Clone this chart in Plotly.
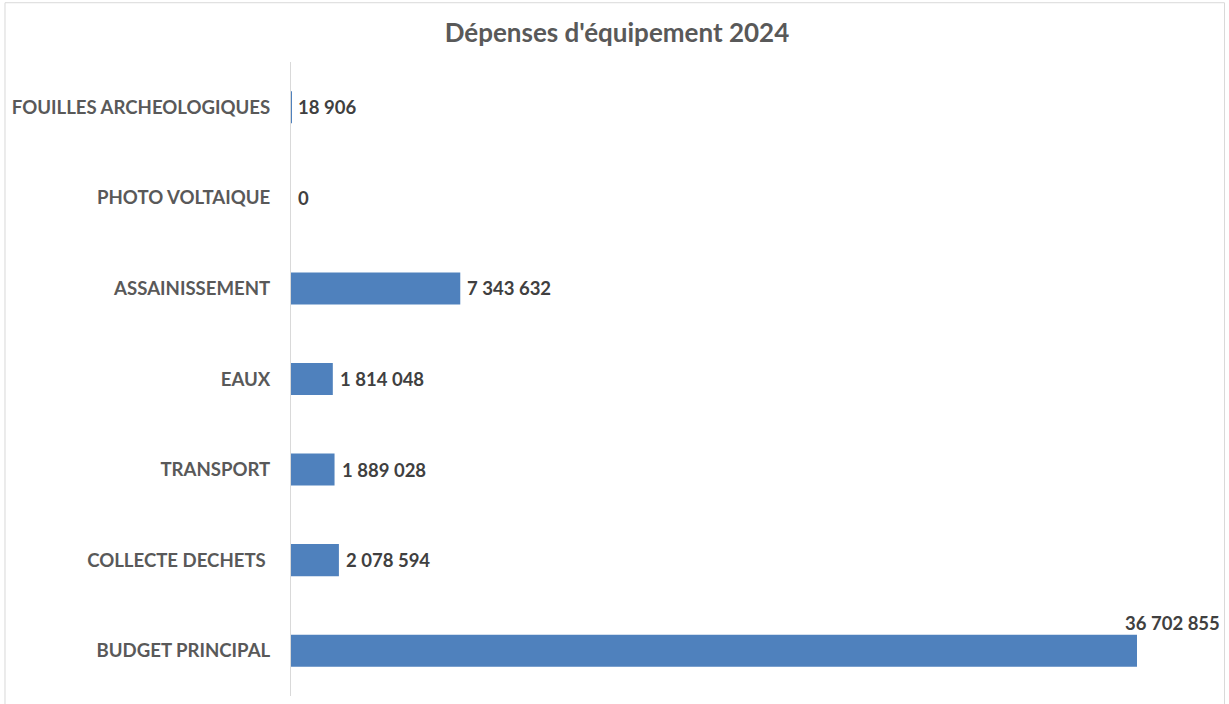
import plotly.graph_objects as go

# Equipment spending by budget, 2024 (euros)
categories = [
    "BUDGET PRINCIPAL",
    "COLLECTE DECHETS ",
    "TRANSPORT",
    "EAUX",
    "ASSAINISSEMENT",
    "PHOTO VOLTAIQUE",
    "FOUILLES ARCHEOLOGIQUES",
]
values = [36702855, 2078594, 1889028, 1814048, 7343632, 0, 18906]
value_labels = ["36 702 855", "2 078 594", "1 889 028", "1 814 048",
                "7 343 632", "0", "18 906"]

FONT = "Lato"
BAR_COLOR = "#4f81bd"

fig = go.Figure(
    go.Bar(
        x=values,
        y=categories,
        orientation="h",
        marker=dict(color=BAR_COLOR, line=dict(width=0)),
        width=0.354,
        hoverinfo="x+y",
    )
)

annotations = []
for cat, val, lab in zip(categories, values, value_labels):
    if val == max(values):
        # the largest bar carries its label above its right end
        annotations.append(dict(
            x=val, y=cat, xref="x", yref="y", text="<b>%s</b>" % lab,
            showarrow=False, xanchor="left", yanchor="middle",
            xshift=-14, yshift=28,
            font=dict(family=FONT, size=18.5, color="#404040"),
        ))
    else:
        annotations.append(dict(
            x=val, y=cat, xref="x", yref="y", text="<b>%s</b>" % lab,
            showarrow=False, xanchor="left", yanchor="middle",
            xshift=5,
            font=dict(family=FONT, size=18.5, color="#404040"),
        ))

fig.update_layout(
    width=1229,
    height=704,
    margin=dict(l=291, r=16, t=62, b=8),
    paper_bgcolor="white",
    plot_bgcolor="white",
    showlegend=False,
    title=dict(
        text="<b>Dépenses d'équipement 2024</b>",
        x=0.502, xanchor="center", y=0.953, yanchor="middle",
        font=dict(family=FONT, size=26, color="#595959"),
    ),
    xaxis=dict(
        range=[0, 40000000],
        showgrid=False, zeroline=False, showticklabels=False,
        showline=False, ticks="",
    ),
    yaxis=dict(
        categoryorder="array", categoryarray=categories,
        range=[-0.5, 6.5],
        showgrid=False, zeroline=False,
        showline=True, linecolor="#d9d9d9", linewidth=1,
        ticks="", ticklabelstandoff=16,
        tickfont=dict(family=FONT, size=18.6, color="#595959"),
    ),
    annotations=annotations,
    shapes=[
        dict(type="rect", xref="paper", yref="paper",
             x0=-0.3102, x1=1.0125, y0=-0.05, y1=1.0935,
             line=dict(color="#d9d9d9", width=1), fillcolor="rgba(0,0,0,0)",
             layer="below"),
    ],
)

# bold category labels
fig.update_yaxes(ticktext=["<b>%s</b>" % c for c in categories],
                 tickvals=categories)

fig.write_html("out.html")
